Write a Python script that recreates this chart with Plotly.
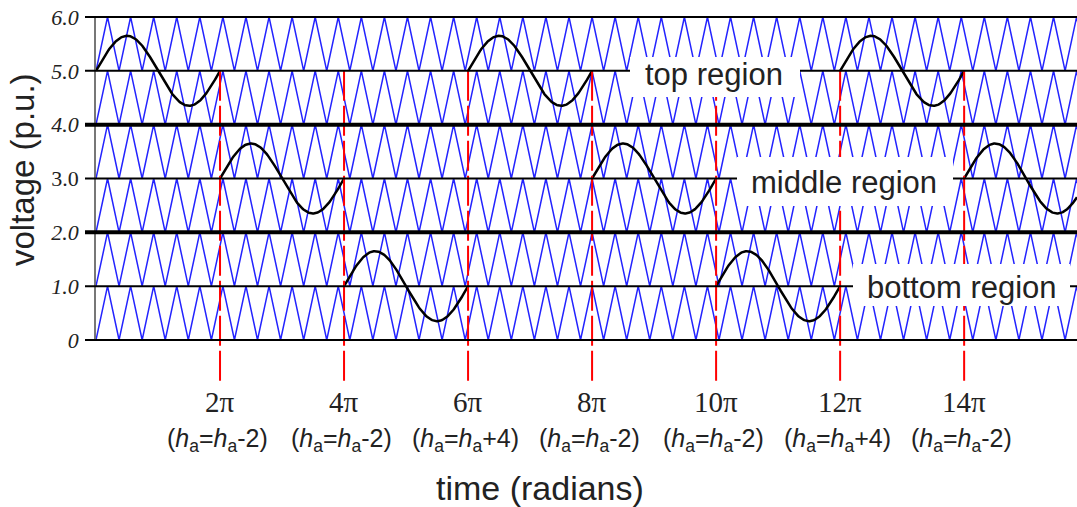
import numpy as np
import plotly.graph_objects as go

# ---- data -------------------------------------------------------------
# voltage levels bounding the carrier bands (p.u.)
levels = [0, 1, 2, 3, 4, 5, 6]
ytick_text = ["<i>0</i>", "<i>1.0</i>", "<i>2.0</i>", "3.0",
              "<i>4.0</i>", "<i>5.0</i>", "<i>6.0</i>"]

# modulating wave: one 2π cycle in each region, in this order
region_order = ["top", "middle", "bottom", "top", "middle", "bottom", "top", "middle"]
region_offset = {"top": 5.0, "middle": 3.0, "bottom": 1.0}
mod_amplitude = 0.65
carrier_ratio = 5.375          # carrier cycles per 2π of the modulating wave

# region change instants (multiples of π) and the index update applied there
switch_multiples = [2, 4, 6, 8, 10, 12, 14]
switch_updates = ["-2", "-2", "+4", "-2", "-2", "+4", "-2"]

region_labels = ["top region", "middle region", "bottom region"]

# ---- layout geometry ----------------------------------------------------
W, H = 1077, 507
ML, MR, MT, MB = 96, 0, 17, 167
PW, PH = W - ML - MR, H - MT - MB
X_MAX = 15.82 * np.pi
Y_MAX = 6.0


def px_x(p):
    return (p - ML) / PW


def px_y(p):
    return (H - MB - p) / PH


# ---- traces -------------------------------------------------------------
fig = go.Figure()

# phase-disposition triangular carriers, one per band
half = np.pi / carrier_ratio
n_vert = int(X_MAX / half) + 2
t_vert = np.arange(n_vert) * half
cx, cy = [], []
for lo in levels[:-1]:
    cx += list(t_vert) + [None]
    cy += list(lo + (np.arange(n_vert) % 2)) + [None]
fig.add_trace(go.Scatter(x=cx, y=cy, mode="lines",
                         line=dict(color="rgb(35,35,255)", width=1.5),
                         hoverinfo="skip", showlegend=False))

# modulating sine, hopping between regions every 2π
sx, sy = [], []
for i, reg in enumerate(region_order):
    t0 = 2 * np.pi * i
    t1 = min(2 * np.pi * (i + 1), X_MAX)
    t = np.linspace(t0, t1, 160)
    sx += list(t) + [None]
    sy += list(region_offset[reg] + mod_amplitude * np.sin(t)) + [None]
fig.add_trace(go.Scatter(x=sx, y=sy, mode="lines",
                         line=dict(color="black", width=2.5),
                         hoverinfo="skip", showlegend=False))

# ---- shapes -------------------------------------------------------------
shapes = []
# red markers at the region change instants
for k in switch_multiples:
    shapes.append(dict(type="line", layer="above", xref="x", yref="paper",
                       x0=k * np.pi, x1=k * np.pi,
                       y0=5.0 / Y_MAX, y1=px_y(383),
                       line=dict(color="red", width=2, dash="30px,5px")))
# band boundaries (thicker at region boundaries)
for lv in levels:
    w = 4 if lv in (2, 4) else 2
    shapes.append(dict(type="line", layer="above", xref="paper", yref="paper",
                       x0=px_x(85), x1=1, y0=lv / Y_MAX, y1=lv / Y_MAX,
                       line=dict(color="black", width=w)))
# white backing for the region names
boxes = [(630, 800, 57, 97), (737, 953, 157, 206), (853, 1070, 264, 306)]
for x0, x1, y0, y1 in boxes:
    shapes.append(dict(type="rect", layer="above", xref="paper", yref="paper",
                       x0=px_x(x0), x1=px_x(x1), y0=px_y(y1), y1=px_y(y0),
                       fillcolor="white", line=dict(width=0)))

# ---- annotations --------------------------------------------------------
ann = []
txt = "#222222"
mid = dict(xanchor="center", yanchor="middle", showarrow=False)
for k, upd in zip(switch_multiples, switch_updates):
    ann.append(dict(x=k * np.pi, y=px_y(402), xref="x", yref="paper",
                    text=f"{k}π",
                    font=dict(family="Liberation Serif", size=29, color=txt), **mid))
    ann.append(dict(x=k * np.pi, y=px_y(440), xref="x", yref="paper", xshift=-3,
                    text=f"(<i>h</i><sub>a</sub>=<i>h</i><sub>a</sub>{upd})",
                    font=dict(family="Liberation Sans", size=25, color=txt), **mid))

label_pos = [(714, 75), (844, 183), (962, 287)]
for lab, (px, py) in zip(region_labels, label_pos):
    ann.append(dict(x=px_x(px), y=px_y(py), xref="paper", yref="paper",
                    text=lab,
                    font=dict(family="Liberation Sans", size=31, color=txt), **mid))

ann.append(dict(x=px_x(540), y=px_y(488), xref="paper", yref="paper",
                text="time (radians)",
                font=dict(family="Liberation Sans", size=34, color=txt), **mid))
ann.append(dict(x=px_x(22), y=px_y(170), xref="paper", yref="paper",
                text="voltage (p.u.)", textangle=-90,
                font=dict(family="Liberation Sans", size=33, color=txt), **mid))

fig.update_layout(
    width=W, height=H,
    margin=dict(l=ML, r=MR, t=MT, b=MB),
    paper_bgcolor="white", plot_bgcolor="white",
    shapes=shapes, annotations=ann,
    xaxis=dict(range=[0, X_MAX], visible=False),
    yaxis=dict(range=[0, Y_MAX], tickvals=levels, ticktext=ytick_text,
               showgrid=False, zeroline=False,
               showline=True, linecolor="#777777", linewidth=1.5,
               ticks="outside", ticklen=11, tickcolor="rgba(0,0,0,0)",
               tickfont=dict(family="Liberation Serif", size=22, color=txt)),
)

fig.write_html("out.html")
